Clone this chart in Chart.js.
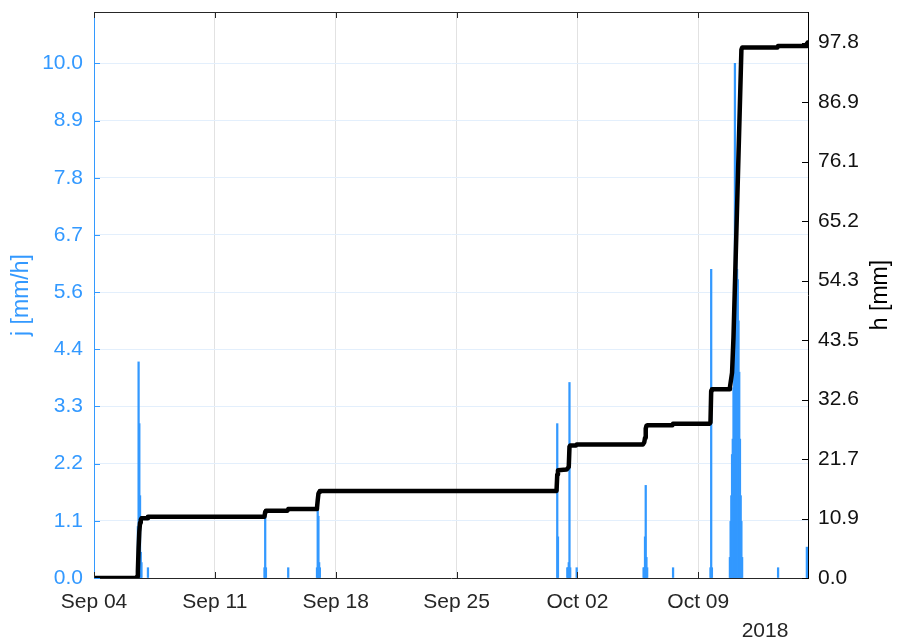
<!DOCTYPE html>
<html>
<head>
<meta charset="utf-8">
<script src="https://cdn.jsdelivr.net/npm/chart.js@4.4.1/dist/chart.umd.min.js"></script>
<style>
  html, body { margin: 0; padding: 0; background: #fff; }
  #wrap { width: 900px; height: 640px; }
</style>
</head>
<body>
<div id="wrap"><canvas id="c" width="900" height="640"></canvas></div>
<script>
// Rain gauge record, Sep-Oct 2018: hourly intensity j [mm/h] and accumulated depth h [mm].

// Hourly rain intensity (only the hours with rain are listed)
const rainTimes = [
  '2018-09-06 12:00', '2018-09-06 13:00', '2018-09-06 14:00', '2018-09-06 15:00',
  '2018-09-06 16:00', '2018-09-06 17:00', '2018-09-06 18:00', '2018-09-07 03:00',
  '2018-09-13 21:00', '2018-09-13 22:00', '2018-09-13 23:00', '2018-09-15 06:00',
  '2018-09-16 22:00', '2018-09-16 23:00', '2018-09-17 00:00', '2018-09-17 01:00',
  '2018-09-17 02:00', '2018-09-30 20:00', '2018-09-30 21:00', '2018-10-01 10:00',
  '2018-10-01 11:00', '2018-10-01 12:00', '2018-10-01 13:00', '2018-10-01 14:00',
  '2018-10-01 23:00', '2018-10-05 20:00', '2018-10-05 21:00', '2018-10-05 22:00',
  '2018-10-05 23:00', '2018-10-06 00:00', '2018-10-06 01:00', '2018-10-07 13:00',
  '2018-10-09 17:00', '2018-10-09 18:00', '2018-10-09 19:00', '2018-10-10 20:00',
  '2018-10-10 21:00', '2018-10-10 22:00', '2018-10-10 23:00', '2018-10-11 00:00',
  '2018-10-11 01:00', '2018-10-11 02:00', '2018-10-11 03:00', '2018-10-11 04:00',
  '2018-10-11 05:00', '2018-10-11 06:00', '2018-10-11 07:00', '2018-10-11 08:00',
  '2018-10-11 09:00', '2018-10-11 10:00', '2018-10-11 11:00', '2018-10-11 12:00',
  '2018-10-11 13:00', '2018-10-13 15:00', '2018-10-15 07:00', '2018-10-15 08:00'
];
const rainRates = [
  0.3, 1.0, 4.2, 3.0,
  1.6, 0.5, 0.3, 0.2,
  0.2, 1.2, 0.2, 0.2,
  0.2, 1.4, 1.2, 0.3,
  0.2, 3.0, 0.8, 0.2,
  0.2, 0.3, 3.8, 0.2,
  0.2, 0.2, 0.2, 0.8,
  1.8, 0.4, 0.2, 0.2,
  0.2, 6.0, 0.2, 0.4,
  1.1, 1.6, 2.4, 2.7,
  3.7, 4.6, 10.0, 7.0,
  6.4, 6.0, 5.8, 5.0,
  4.0, 2.7, 1.6, 1.1,
  0.4, 0.2, 0.6, 0.4
];

// Accumulated depth at its break points
const depthTimes = [
  '2018-09-04 00:00', '2018-09-06 11:00', '2018-09-06 12:00', '2018-09-06 13:00',
  '2018-09-06 14:00', '2018-09-06 15:00', '2018-09-06 16:00', '2018-09-06 17:00',
  '2018-09-06 18:00', '2018-09-07 02:00', '2018-09-07 03:00', '2018-09-13 21:00',
  '2018-09-13 22:00', '2018-09-13 23:00', '2018-09-15 05:00', '2018-09-15 06:00',
  '2018-09-16 21:00', '2018-09-16 22:00', '2018-09-16 23:00', '2018-09-17 00:00',
  '2018-09-17 01:00', '2018-09-17 02:00', '2018-09-30 19:00', '2018-09-30 20:00',
  '2018-09-30 21:00', '2018-10-01 09:00', '2018-10-01 12:00', '2018-10-01 13:00',
  '2018-10-01 14:00', '2018-10-01 22:00', '2018-10-01 23:00', '2018-10-05 19:00',
  '2018-10-05 21:00', '2018-10-05 22:00', '2018-10-05 23:00', '2018-10-06 00:00',
  '2018-10-06 01:00', '2018-10-07 12:00', '2018-10-07 13:00', '2018-10-09 16:00',
  '2018-10-09 17:00', '2018-10-09 18:00', '2018-10-09 19:00', '2018-10-10 19:00',
  '2018-10-10 20:00', '2018-10-10 23:00', '2018-10-11 01:00', '2018-10-11 12:00',
  '2018-10-11 13:00', '2018-10-13 14:00', '2018-10-13 15:00', '2018-10-15 06:00',
  '2018-10-15 07:00', '2018-10-15 08:00'
];
const depthValues = [
  0.0, 0.0, 0.3, 1.3,
  5.5, 8.5, 10.1, 10.6,
  10.9, 10.9, 11.2, 11.2,
  12.1, 12.3, 12.3, 12.6,
  12.6, 12.8, 14.2, 15.4,
  15.7, 15.9, 15.9, 18.9,
  19.7, 19.8, 20.3, 24.0,
  24.2, 24.2, 24.4, 24.4,
  24.8, 25.6, 27.3, 27.8,
  27.9, 27.9, 28.2, 28.2,
  28.4, 34.2, 34.5, 34.5,
  34.8, 37.5, 44.0, 96.5,
  96.9, 96.9, 97.2, 97.2,
  97.6, 97.8
];

// Time axis range and ticks
const periodStart = '2018-09-04 00:00';
const periodEnd = '2018-10-15 08:35';
const dateTicks = ['2018-09-04', '2018-09-11', '2018-09-18', '2018-09-25', '2018-10-02', '2018-10-09'];
const dateTickLabels = ['Sep 04', 'Sep 11', 'Sep 18', 'Sep 25', 'Oct 02', 'Oct 09'];
const yearLabel = '2018';

// Value axes: ten evenly spaced ticks up to the record maximum, some headroom above
const jTickMax = 10.0, jAxisMax = 11.0;
const hTickMax = 97.8, hAxisMax = 103.4;
const tickCount = 10;

function toMs(s) {
  const [d, t = '00:00'] = s.split(' ');
  const [Y, M, D] = d.split('-').map(Number);
  const [hh, mm] = t.split(':').map(Number);
  return Date.UTC(Y, M - 1, D, hh, mm);
}
function evenTicks(top) {
  const out = [];
  for (let k = 0; k < tickCount; k++) out.push({ value: top * k / (tickCount - 1) });
  return out;
}

const BLUE = '#3399ff';
const INK = '#262626';
const FONT = 'Liberation Sans, Arial, Helvetica, sans-serif';
const tickFont = { family: FONT, size: 21 };

const rainData = rainTimes.map((t, i) => ({ x: toMs(t), y: rainRates[i] }));
const depthData = depthTimes.map((t, i) => ({ x: toMs(t), y: depthValues[i] }));

// Axis box: top edge, inward tick marks, axis titles and the year note
const axisBox = {
  id: 'axisBox',
  afterDatasetsDraw(chart) {
    const { ctx, chartArea: a, scales } = chart;
    const L = 6;
    ctx.save();
    ctx.lineWidth = 1;
    ctx.strokeStyle = INK;
    ctx.beginPath();
    ctx.moveTo(a.left, Math.round(a.top) + 0.5);
    ctx.lineTo(a.right, Math.round(a.top) + 0.5);
    scales.x.ticks.forEach(t => {
      const px = Math.round(scales.x.getPixelForValue(t.value)) + 0.5;
      ctx.moveTo(px, a.bottom); ctx.lineTo(px, a.bottom - L);
      ctx.moveTo(px, a.top); ctx.lineTo(px, a.top + L);
    });
    ctx.stroke();
    ctx.strokeStyle = BLUE;
    ctx.beginPath();
    scales.yj.ticks.forEach(t => {
      const py = Math.round(scales.yj.getPixelForValue(t.value)) + 0.5;
      ctx.moveTo(a.left, py); ctx.lineTo(a.left + L, py);
    });
    ctx.stroke();
    ctx.strokeStyle = '#000';
    ctx.beginPath();
    scales.yh.ticks.forEach(t => {
      const py = Math.round(scales.yh.getPixelForValue(t.value)) + 0.5;
      ctx.moveTo(a.right, py); ctx.lineTo(a.right - L, py);
    });
    ctx.stroke();
    ctx.restore();
  },
  afterDraw(chart) {
    const { ctx, chartArea: a } = chart;
    const midY = (a.top + a.bottom) / 2;
    ctx.save();
    ctx.font = '23px ' + FONT;
    ctx.textAlign = 'center';
    ctx.textBaseline = 'middle';
    ctx.fillStyle = BLUE;
    ctx.save();
    ctx.translate(22, midY);
    ctx.rotate(-Math.PI / 2);
    ctx.fillText('j [mm/h]', 0, 0);
    ctx.restore();
    ctx.fillStyle = '#000';
    ctx.save();
    ctx.translate(881, midY);
    ctx.rotate(-Math.PI / 2);
    ctx.fillText('h [mm]', 0, 0);
    ctx.restore();
    ctx.font = '21px ' + FONT;
    ctx.fillStyle = INK;
    ctx.fillText(yearLabel, 765, 631);
    ctx.restore();
  }
};

function fixWidth(w) {
  return s => { s.width = w; s.paddingTop = 0; s.paddingBottom = 0; };
}

new Chart(document.getElementById('c'), {
  type: 'line',
  data: {
    datasets: [
      {
        label: 'h',
        data: depthData,
        yAxisID: 'yh',
        borderColor: '#000',
        borderWidth: 4.5,
        borderJoinStyle: 'round',
        borderCapStyle: 'round',
        pointRadius: 0,
        fill: false,
        tension: 0,
        order: 0
      },
      {
        type: 'bar',
        label: 'j',
        data: rainData,
        yAxisID: 'yj',
        backgroundColor: BLUE,
        borderWidth: 0,
        barThickness: 1.6,
        grouped: false,
        order: 1
      }
    ]
  },
  options: {
    responsive: false,
    animation: false,
    devicePixelRatio: 1,
    layout: { padding: { top: 12, left: 0, right: 0, bottom: 0 } },
    plugins: { legend: { display: false }, tooltip: { enabled: false } },
    scales: {
      x: {
        type: 'linear',
        min: toMs(periodStart),
        max: toMs(periodEnd),
        offset: false,
        grid: { color: '#e2e2e2', lineWidth: 1, drawTicks: false, offset: false },
        border: { color: INK, width: 1 },
        ticks: {
          font: tickFont,
          color: INK,
          padding: 12,
          autoSkip: false,
          maxRotation: 0,
          callback: (v, i) => dateTickLabels[i]
        },
        afterBuildTicks: s => { s.ticks = dateTicks.map(d => ({ value: toMs(d) })); },
        afterFit: s => { s.height = 62; s.paddingLeft = 0; s.paddingRight = 0; }
      },
      yj: {
        type: 'linear',
        position: 'left',
        min: 0,
        max: jAxisMax,
        grid: { color: '#e3effc', lineWidth: 1, drawTicks: false },
        border: { color: BLUE, width: 1 },
        ticks: {
          font: tickFont,
          color: BLUE,
          padding: 11,
          callback: v => v.toFixed(1)
        },
        afterBuildTicks: s => { s.ticks = evenTicks(jTickMax); },
        afterFit: fixWidth(94)
      },
      yh: {
        type: 'linear',
        position: 'right',
        min: 0,
        max: hAxisMax,
        grid: { display: true, drawOnChartArea: false, drawTicks: false },
        border: { color: '#000', width: 1 },
        ticks: {
          font: tickFont,
          color: '#111',
          padding: 10,
          callback: v => v.toFixed(1)
        },
        afterBuildTicks: s => { s.ticks = evenTicks(hTickMax); },
        afterFit: fixWidth(92)
      }
    }
  },
  plugins: [axisBox]
});
</script>
</body>
</html>
